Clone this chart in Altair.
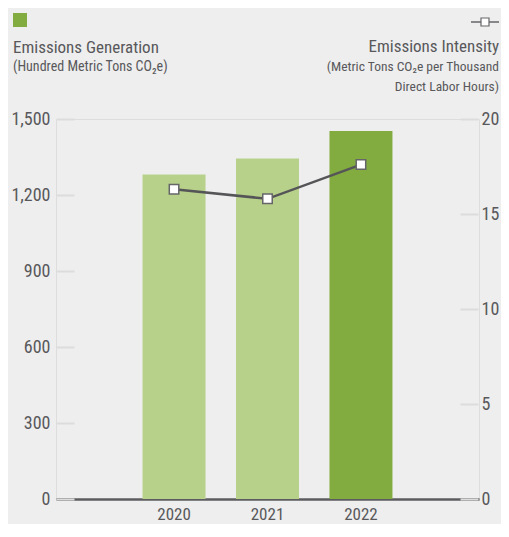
import altair as alt
import pandas as pd

years = ["2020", "2021", "2022"]
generation = [1281, 1344, 1453]
intensity = [16.3, 15.8, 17.6]
bar_colors = ["#b7d18b", "#b7d18b", "#82ab40"]

left_title = "Emissions Generation"
left_sub = "(Hundred Metric Tons CO₂e)"
right_title = "Emissions Intensity"
right_sub = ["(Metric Tons CO₂e per Thousand", "Direct Labor Hours)"]

FONT = "Roboto Condensed, Liberation Sans Narrow, Roboto, sans-serif"
TXT = "#58585b"

df = pd.DataFrame({"year": years, "gen": generation, "inten": intensity, "color": bar_colors})

xenc = alt.X("year:O", title=None,
             scale=alt.Scale(paddingInner=0.326, paddingOuter=0.926),
             axis=alt.Axis(labelAngle=0, ticks=False, domainColor="#5c5c60", domainWidth=2.5,
                           labelPadding=7, labelFontSize=17, labelColor=TXT, labelFont=FONT))

bars = alt.Chart(df).mark_bar().encode(
    x=xenc,
    y=alt.Y("gen:Q", title=None,
            scale=alt.Scale(domain=[0, 1500]),
            axis=alt.Axis(orient="left", values=[0, 300, 600, 900, 1200, 1500], format=",d",
                          domain=False, grid=False, offset=-18, tickSize=18, tickWidth=2,
                          tickColor="#dcdcdc", labelPadding=6, labelFontSize=18, labelColor=TXT,
                          labelFont=FONT)),
    color=alt.Color("color:N", scale=None),
)

line = alt.Chart(df).mark_line(color="#555558", strokeWidth=2.5).encode(
    x=alt.X("year:O"),
    y=alt.Y("inten:Q", title=None,
            scale=alt.Scale(domain=[0, 20]),
            axis=alt.Axis(orient="right", values=[0, 5, 10, 15, 20], format="d",
                          domain=False, grid=False, offset=-19, tickSize=18, tickWidth=2,
                          tickColor="#dcdcdc", labelPadding=3, labelFontSize=18, labelColor=TXT,
                          labelFont=FONT)),
)
points = alt.Chart(df).mark_square(size=90, filled=True, fill="white", stroke="#666669",
                                   strokeWidth=1.5, opacity=1).encode(
    x=alt.X("year:O"),
    y=alt.Y("inten:Q"),
)
line_layer = alt.layer(line, points)


def label(text, x, y, size, align="left"):
    return alt.Chart(pd.DataFrame({"t": [text]})).mark_text(
        align=align, baseline="alphabetic", fontSize=size, color=TXT, font=FONT
    ).encode(x=alt.value(x), y=alt.value(y), text="t:N")


one = pd.DataFrame({"k": [0]})
left_icon = alt.Chart(one).mark_rect(color="#82ab40").encode(
    x=alt.value(-43), x2=alt.value(-29), y=alt.value(-106), y2=alt.value(-92))
right_icon_line = alt.Chart(one).mark_rule(color="#666669", strokeWidth=1.5).encode(
    x=alt.value(415), x2=alt.value(443), y=alt.value(-97))
right_icon_sq = alt.Chart(one).mark_square(size=64, filled=True, fill="white", stroke="#666669",
                                           strokeWidth=1.2, opacity=1).encode(
    x=alt.value(429), y=alt.value(-97))

chart = alt.layer(
    bars,
    line_layer,
    label(left_title, -43, -66, 17),
    label(left_sub, -43, -48, 14),
    label(right_title, 443, -67, 17, "right"),
    label(right_sub[0], 443, -48, 13.5, "right"),
    label(right_sub[1], 443, -28, 13.5, "right"),
    left_icon,
    right_icon_line,
    right_icon_sq,
).resolve_scale(y="independent").properties(
    width=423,
    height=380,
    padding={"left": 48, "top": 111, "right": 22, "bottom": 25},
    autosize=alt.AutoSizeParams(type="none"),
    background="#eeeeee",
).configure_view(stroke=None).configure(font=FONT)

chart.save("out.html", embed_options={"renderer": "svg", "actions": False})
